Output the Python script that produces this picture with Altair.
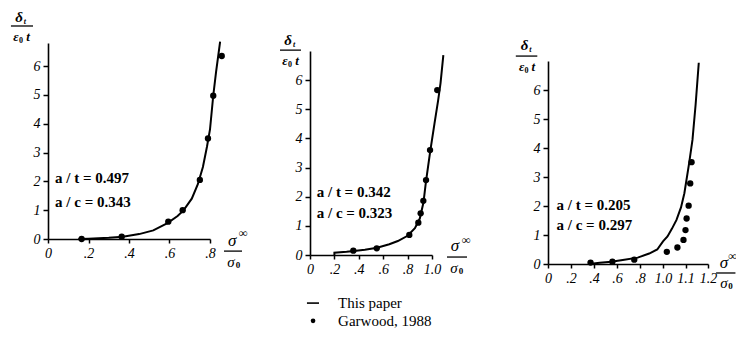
import altair as alt
import pandas as pd

# ---------------- data ----------------
# Panel 1: a/t = 0.497, a/c = 0.343
p1_curve_s = [0.15, 0.2, 0.3, 0.37, 0.45, 0.52, 0.59, 0.64, 0.67, 0.71, 0.74, 0.765, 0.785, 0.8, 0.816, 0.83, 0.85]
p1_curve_d = [0.0, 0.01, 0.04, 0.08, 0.17, 0.3, 0.55, 0.8, 1.0, 1.4, 1.9, 2.5, 3.2, 3.8, 4.97, 5.8, 6.85]
p1_dots_s = [0.166, 0.364, 0.594, 0.665, 0.75, 0.79, 0.816, 0.858]
p1_dots_d = [0.0, 0.08, 0.6, 1.0, 2.05, 3.49, 4.97, 6.35]

# Panel 2: a/t = 0.342, a/c = 0.323
p2_curve_s = [0.2, 0.2, 0.3, 0.36, 0.45, 0.55, 0.65, 0.72, 0.8, 0.86, 0.9, 0.93, 0.95, 0.985, 1.02, 1.05, 1.07, 1.093]
p2_curve_d = [0.0, 0.08, 0.11, 0.14, 0.18, 0.25, 0.37, 0.48, 0.66, 0.92, 1.25, 1.8, 2.5, 3.55, 4.5, 5.3, 5.9, 6.86]
p2_dots_s = [0.355, 0.547, 0.814, 0.888, 0.907, 0.929, 0.951, 0.984, 1.043]
p2_dots_d = [0.15, 0.23, 0.69, 1.11, 1.43, 1.86, 2.57, 3.6, 5.66]

# Panel 3: a/t = 0.205, a/c = 0.297
p3_curve_s = [0.36, 0.45, 0.55, 0.65, 0.78, 0.88, 0.95, 1.0, 1.02, 1.04, 1.06, 1.08, 1.095, 1.116, 1.131, 1.145, 1.159]
p3_curve_d = [0.0, 0.04, 0.08, 0.14, 0.22, 0.36, 0.5, 0.78, 0.95, 1.22, 1.52, 1.95, 2.44, 3.47, 4.28, 5.5, 6.94]
p3_dots_s = [0.37, 0.56, 0.75, 1.017, 1.064, 1.091, 1.1, 1.105, 1.114, 1.121, 1.127]
p3_dots_d = [0.05, 0.08, 0.15, 0.42, 0.57, 0.83, 1.17, 1.57, 2.01, 2.78, 3.51]

# ticks and labels
p1_xticks = [0, 0.2, 0.4, 0.6, 0.8]
p2_xticks = [0, 0.2, 0.4, 0.6, 0.8, 1.0]
p3_xticks = [0, 0.2, 0.4, 0.6, 0.8, 1.0, 1.1, 1.2]
y_ticks = [0, 1, 2, 3, 4, 5, 6]

p1_notes = ["a / t = 0.497", "a / c = 0.343"]
p2_notes = ["a / t = 0.342", "a / c = 0.323"]
p3_notes = ["a / t = 0.205", "a / c = 0.297"]
legend_labels = ["This paper", "Garwood, 1988"]

# ---------------- chart ----------------
W, H = 728, 321
FONT = "Liberation Serif"
LABEL_EXPR = ("datum.value == 0 ? '0' : (datum.value < 1 ? "
              "replace(format(datum.value, '.1f'), '0.', '.') : format(datum.value, '.1f'))")

layers = []


def make_panel(cs, cd, ds, dd, xdom, xrng, ydom, yrng, xticks):
    xs = alt.Scale(domain=xdom, range=xrng, nice=False, zero=False)
    ys = alt.Scale(domain=ydom, range=yrng, nice=False, zero=False)
    xaxis = alt.Axis(orient="bottom", offset=yrng[0] - H, values=xticks, labelExpr=LABEL_EXPR,
                     title=None, grid=False, labelFlush=False, labelOverlap=False,
                     tickSize=4, labelPadding=3)
    yaxis = alt.Axis(orient="left", offset=-xrng[0], values=y_ticks, title=None, grid=False,
                     tickSize=5, labelPadding=3, labelFlush=False, labelOverlap=False)
    cdf = pd.DataFrame({"s": cs, "d": cd, "i": list(range(len(cs)))})
    line = alt.Chart(cdf).mark_line(color="black", strokeWidth=2).encode(
        x=alt.X("s:Q", scale=xs, axis=xaxis),
        y=alt.Y("d:Q", scale=ys, axis=yaxis),
        order="i:Q",
    )
    ddf = pd.DataFrame({"s": ds, "d": dd})
    dots = alt.Chart(ddf).mark_circle(color="black", size=40, opacity=1).encode(
        x=alt.X("s:Q", scale=xs, axis=None),
        y=alt.Y("d:Q", scale=ys, axis=None),
    )
    layers.extend([line, dots])
    return xs, ys


def text(xs, ys, s, d, t, size, style="normal", weight="normal", align="center"):
    df = pd.DataFrame({"s": [s], "d": [d], "t": [t]})
    layers.append(
        alt.Chart(df).mark_text(font=FONT, fontSize=size, fontStyle=style, fontWeight=weight,
                                align=align, baseline="middle", color="black").encode(
            x=alt.X("s:Q", scale=xs, axis=None),
            y=alt.Y("d:Q", scale=ys, axis=None),
            text="t:N",
        )
    )


def rule(xs, ys, s1, s2, d, width=1.3):
    df = pd.DataFrame({"s": [s1], "s2": [s2], "d": [d]})
    layers.append(
        alt.Chart(df).mark_rule(color="black", strokeWidth=width).encode(
            x=alt.X("s:Q", scale=xs, axis=None),
            x2="s2:Q",
            y=alt.Y("d:Q", scale=ys, axis=None),
        )
    )


def dot(xs, ys, s, d):
    df = pd.DataFrame({"s": [s], "d": [d]})
    layers.append(
        alt.Chart(df).mark_circle(color="black", size=22, opacity=1).encode(
            x=alt.X("s:Q", scale=xs, axis=None),
            y=alt.Y("d:Q", scale=ys, axis=None),
        )
    )


def titles(xs, ys, yt, xt):
    # y title: delta_t over epsilon_0 t
    (dx, dy), (tx, ty), (r1, r2, ry), (ex, ey), (zx, zy), (t2x, t2y) = yt
    text(xs, ys, dx, dy, "δ", 15, "italic", "bold")
    text(xs, ys, tx, ty, "t", 8, "italic", "bold")
    rule(xs, ys, r1, r2, ry)
    text(xs, ys, ex, ey, "ε", 13, "italic", "bold")
    text(xs, ys, zx, zy, "0", 8, "normal", "bold")
    text(xs, ys, t2x, t2y, "t", 13, "italic", "bold")
    # x title: sigma^inf over sigma_0
    (sx, sy), (ix, iy), (q1, q2, qy), (s0x, s0y), (ox, oy) = xt
    text(xs, ys, sx, sy, "σ", 17, "italic")
    text(xs, ys, ix, iy, "∞", 12, "normal", "bold")
    rule(xs, ys, q1, q2, qy)
    text(xs, ys, s0x, s0y, "σ", 15, "italic")
    text(xs, ys, ox, oy, "0", 9, "normal", "bold")


# Panel 1
xs1, ys1 = make_panel(p1_curve_s, p1_curve_d, p1_dots_s, p1_dots_d,
                      [0, 0.8], [40, 202], [0, 6.8], [231, 35], p1_xticks)
text(xs1, ys1, 0.035, 2.1, p1_notes[0], 15, weight="bold", align="left")
text(xs1, ys1, 0.035, 1.28, p1_notes[1], 15, weight="bold", align="left")
titles(xs1, ys1,
       [(-0.143, 7.70), (-0.114, 7.52), (-0.183, -0.074, 7.39), (-0.158, 7.01), (-0.133, 6.88), (-0.099, 7.01)],
       [(0.909, -0.07), (0.963, 0.21), (0.869, 0.958, -0.42), (0.904, -0.80), (0.938, -0.90)])

# Panel 2
xs2, ys2 = make_panel(p2_curve_s, p2_curve_d, p2_dots_s, p2_dots_d,
                      [0, 1.0], [302, 424], [0, 7], [247, 43], p2_xticks)
text(xs2, ys2, 0.055, 2.15, p2_notes[0], 15, weight="bold", align="left")
text(xs2, ys2, 0.055, 1.45, p2_notes[1], 15, weight="bold", align="left")
titles(xs2, ys2,
       [(-0.18, 7.37), (-0.131, 7.20), (-0.246, -0.074, 7.03), (-0.205, 6.65), (-0.164, 6.52), (-0.107, 6.65)],
       [(1.189, 0.31), (1.279, 0.51), (1.123, 1.287, -0.07), (1.18, -0.45), (1.238, -0.55)])

# Panel 3 (axis labelled 0 ... 1.0, 1.1, 1.2 with equal tick spacing)
xs3, ys3 = make_panel(p3_curve_s, p3_curve_d, p3_dots_s, p3_dots_d,
                      [0, 1.0, 1.2], [540, 655, 700], [0, 7], [256, 53], p3_xticks)
text(xs3, ys3, 0.074, 2.05, p3_notes[0], 15, weight="bold", align="left")
text(xs3, ys3, 0.074, 1.35, p3_notes[1], 15, weight="bold", align="left")
titles(xs3, ys3,
       [(-0.203, 7.55), (-0.153, 7.38), (-0.28, -0.093, 7.17), (-0.229, 6.79), (-0.186, 6.66), (-0.127, 6.79)],
       [(1.271, 0.03), (1.309, 0.26), (1.236, 1.322, -0.31), (1.271, -0.66), (1.300, -0.76)])

# Legend (placed under the middle panel)
rule(xs2, ys2, -0.025, 0.074, -1.65, width=1.6)
text(xs2, ys2, 0.23, -1.65, legend_labels[0], 15, align="left")
dot(xs2, ys2, 0.025, -2.26)
text(xs2, ys2, 0.23, -2.26, legend_labels[1], 15, align="left")

chart = (
    alt.layer(*layers)
    .resolve_scale(x="independent", y="independent")
    .properties(width=W, height=H, padding=0, autosize=alt.AutoSizeParams(type="none"),
                background="white")
    .configure_view(stroke=None)
    .configure_axis(
        domainColor="black", domainWidth=1.6, tickColor="black", tickWidth=1.5,
        labelColor="black", labelFont=FONT, labelFontSize=14, labelFontStyle="italic",
    )
)

chart.save("out.html", embed_options={"renderer": "svg", "actions": False})
